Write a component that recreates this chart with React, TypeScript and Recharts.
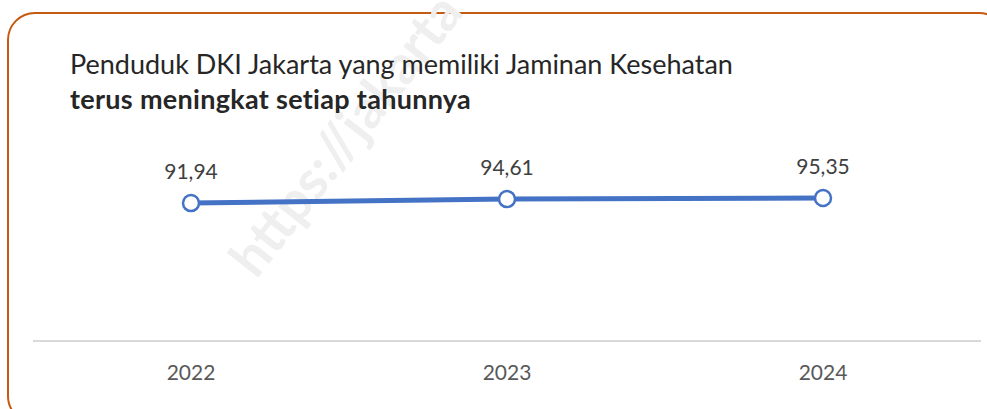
import { LineChart, Line, XAxis, YAxis, LabelList } from "recharts"

const years = ["2022", "2023", "2024"]
const coverage = [91.94, 94.61, 95.35]

const data = years.map((year, i) => ({ year, value: coverage[i] }))

const font = "Lato, 'Open Sans', sans-serif"

export default function App() {
  return (
    <div
      style={{
        position: "absolute",
        left: 0,
        top: 0,
        width: 987,
        height: 409,
        overflow: "hidden",
        background: "#fff",
        fontFamily: font,
      }}
    >
      <div
        style={{
          position: "absolute",
          left: 7,
          top: 12,
          width: 1000,
          height: 412,
          border: "2px solid #C55A11",
          borderRadius: 28,
          boxSizing: "border-box",
        }}
      />
      {/* faint watermark */}
      <div
        style={{
          position: "absolute",
          left: 240,
          top: 235,
          transform: "rotate(-52deg)",
          transformOrigin: "left center",
          fontSize: 54,
          fontWeight: 700,
          color: "#efefef",
          whiteSpace: "nowrap",
        }}
      >
        https://jakarta
      </div>
      <div
        style={{
          position: "absolute",
          left: 70,
          top: 46,
          fontSize: 27,
          lineHeight: "35px",
          color: "#262626",
        }}
      >
        <div>Penduduk DKI Jakarta yang memiliki Jaminan Kesehatan</div>
        <div style={{ fontWeight: 700, letterSpacing: 0.3 }}>terus meningkat setiap tahunnya</div>
      </div>
      <div style={{ position: "absolute", left: 0, top: 0 }}>
        <LineChart
          width={987}
          height={409}
          data={data}
          margin={{ top: 161, right: 6, bottom: 28, left: 33 }}
        >
          <XAxis
            dataKey="year"
            height={40}
            padding={{ left: 158, right: 158 }}
            axisLine={{ stroke: "#D9D9D9", strokeWidth: 2 }}
            tickLine={false}
            tickSize={0}
            tickMargin={24}
            tick={{ fill: "#595959", fontSize: 21, fontFamily: font }}
          />
          <YAxis hide domain={[0, 120]} />
          <Line
            dataKey="value"
            stroke="#4472C4"
            strokeWidth={5}
            isAnimationActive={false}
            dot={{ r: 8, fill: "#fff", stroke: "#4472C4", strokeWidth: 2.5 }}
          >
            <LabelList
              dataKey="value"
              position="top"
              offset={24}
              fill="#404040"
              fontSize={21}
              fontFamily={font}
              formatter={(v: number) => v.toFixed(2).replace(".", ",")}
            />
          </Line>
        </LineChart>
      </div>
    </div>
  )
}
